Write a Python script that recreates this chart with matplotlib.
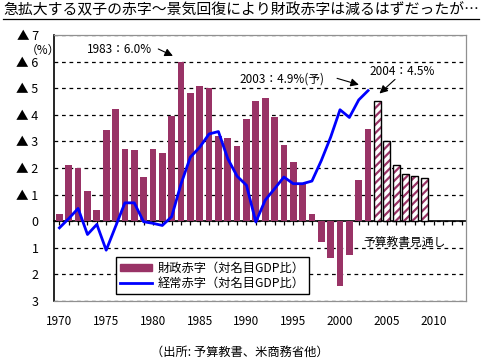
import matplotlib
matplotlib.use("Agg")
import matplotlib.pyplot as plt
from matplotlib.lines import Line2D
import numpy as np

plt.rcParams['font.family'] = ['Noto Sans CJK JP', 'DejaVu Sans']
plt.rcParams['hatch.linewidth'] = 1.6

years = list(range(1970, 2010))
fiscal = [0.27, 2.1, 2.0, 1.12, 0.42, 3.41, 4.23, 2.70, 2.66, 1.66,
          2.70, 2.58, 3.97, 6.0, 4.83, 5.09, 5.01, 3.22, 3.11, 2.81,
          3.86, 4.53, 4.64, 3.9, 2.88, 2.21, 1.39, 0.26, -0.79, -1.37,
          -2.45, -1.26, 1.54, 3.45, 4.5, 3.0, 2.12, 1.79, 1.69, 1.61]
n_actual = 34  # 1970-2003 actual, 2004-2009 budget projection
ca_years = list(range(1970, 2004))
current = [-0.25, 0.1, 0.48, -0.5, -0.12, -1.09, -0.2, 0.69, 0.69, -0.02,
           -0.08, -0.16, 0.17, 1.4, 2.41, 2.78, 3.28, 3.37, 2.35, 1.69,
           1.35, -0.03, 0.79, 1.22, 1.66, 1.41, 1.41, 1.51, 2.28, 3.16,
           4.19, 3.9, 4.56, 4.91]

ytick_vals = [7, 6, 5, 4, 3, 2, 1, 0, -1, -2, -3]
ytick_labels = ['▲ 7', '▲ 6', '▲ 5', '▲ 4', '▲ 3', '▲ 2', '▲ 1', '0', '1', '2', '3']
xtick_vals = [1970, 1975, 1980, 1985, 1990, 1995, 2000, 2005, 2010]

plum = '#993366'

fig = plt.figure(figsize=(4.87, 3.64), dpi=100)
ax = fig.add_axes([54/487, 1-301/364, 412/487, 266/364])

# actual bars
ax.bar(years[:n_actual], fiscal[:n_actual], width=0.72, color=plum, linewidth=0, zorder=2)
# projected bars (hatched)
ax.bar(years[n_actual:], fiscal[n_actual:], width=0.72, facecolor='white', edgecolor=plum,
       hatch='////', linewidth=0, zorder=2)
ax.bar(years[n_actual:], fiscal[n_actual:], width=0.72, facecolor='none', edgecolor='black',
       linewidth=1.0, zorder=3)

ax.plot(ca_years, current, color='#0000FF', linewidth=2.0, zorder=4, solid_joinstyle='round')

ax.set_xlim(1969.42, 2013.47)
ax.set_ylim(-3, 7)
ax.set_yticks(ytick_vals)
ax.set_yticklabels(ytick_labels, fontsize=9)
ax.set_xticks(xtick_vals)
ax.set_xticklabels([str(v) for v in xtick_vals], fontsize=8.5)
ax.tick_params(axis='y', length=0, pad=11)
ax.tick_params(axis='x', length=0, pad=10)

ax.grid(axis='y', linestyle=(0, (3, 3)), color='black', linewidth=0.9, zorder=1)
ax.set_axisbelow(True)

for s in ['top', 'right', 'bottom']:
    ax.spines[s].set_color('#909090')
    ax.spines[s].set_linewidth(0.9)
ax.spines['left'].set_color('black')
ax.spines['left'].set_linewidth(1.2)

# zero line with year ticks
sec = ax.secondary_xaxis(0.3)
sec.set_xticks(list(range(1970, 2014)))
sec.set_xticklabels([])
sec.tick_params(axis='x', length=3, width=0.9, direction='out', color='black')
sec.spines['bottom'].set_color('black')
sec.spines['bottom'].set_linewidth(1.2)

# annotations
arrow = dict(arrowstyle='-|>', color='black', lw=0.8, mutation_scale=12)
ax.text(1976.45, 6.44, '1983：6.0%', fontsize=8.5, ha='center', va='center')
ax.annotate('', xy=(1982.4, 6.17), xytext=(1980.3, 6.52), arrowprops=arrow)
ax.text(1993.8, 5.35, '2003：4.9%(予)', fontsize=8.5, ha='center', va='center')
ax.annotate('', xy=(2002.3, 5.1), xytext=(1999.4, 5.4), arrowprops=arrow)
ax.text(2006.6, 5.61, '2004：4.5%', fontsize=8.5, ha='center', va='center')
ax.annotate('', xy=(2004.0, 4.73), xytext=(2006.1, 5.4), arrowprops=arrow)
ax.text(2006.9, -0.78, '予算教書見通し', fontsize=8.5, ha='center', va='center')

fig.text(43/487, 1-50/364, '（%）', fontsize=8.5, ha='center', va='center')

# legend
handles = [plt.Rectangle((0, 0), 1, 1, color=plum),
           Line2D([0], [0], color='#0000FF', linewidth=2.0)]
leg = ax.legend(handles, ['財政赤字（対名目GDP比）', '経常赤字（対名目GDP比）'],
                loc='lower left', bbox_to_anchor=(0.15, 0.026), fontsize=8.8,
                frameon=True, fancybox=False, framealpha=1, edgecolor='black',
                handlelength=2.6, handleheight=0.5, labelspacing=0.2,
                borderpad=0.35, handletextpad=0.5, borderaxespad=0)
leg.get_frame().set_linewidth(1.0)
leg.set_zorder(5)

# title with underline
title = fig.text(3/487, 1-10/364, '急拡大する双子の赤字～景気回復により財政赤字は減るはずだったが…',
                 fontsize=10.7, ha='left', va='center')
fig.canvas.draw()
bb = title.get_window_extent()
W, H = fig.canvas.get_width_height()
fig.add_artist(Line2D([bb.x0 / W, bb.x1 / W], [1-18.5/364, 1-18.5/364],
                      color='black', linewidth=0.9, transform=fig.transFigure))

fig.text(240/487, 1-352/364, '（出所: 予算教書、米商務省他）', fontsize=8.8, ha='center', va='center')

fig.savefig('out.png', dpi=100)
